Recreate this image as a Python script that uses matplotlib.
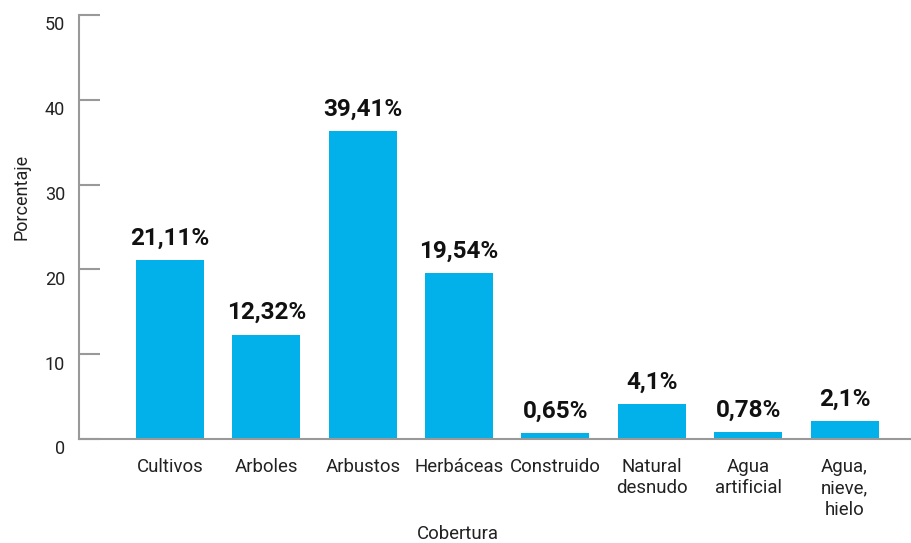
import matplotlib.pyplot as plt
import matplotlib.transforms as mtransforms

categorias = ['Cultivos', 'Arboles', 'Arbustos', 'Herbáceas', 'Construido',
              'Natural\ndesnudo', 'Agua\nartificial', 'Agua,\nnieve,\nhielo']
# bar heights as drawn in the picture (Arbustos bar is drawn lower than its label)
alturas = [21.11, 12.32, 36.3, 19.54, 0.65, 4.1, 0.78, 2.1]
etiquetas = ['21,11%', '12,32%', '39,41%', '19,54%', '0,65%', '4,1%', '0,78%', '2,1%']
yticks = [0, 10, 20, 30, 40, 50]

plt.rcParams['font.family'] = ['Roboto', 'DejaVu Sans']

fig = plt.figure(figsize=(9.11, 5.43), dpi=100)
ax = fig.add_axes([79 / 911, 1 - 439 / 543, 1 - 79 / 911, 424 / 543])

x = list(range(len(categorias)))
bars = ax.bar(x, alturas, width=0.706, color='#02b1e9', zorder=2)

for xi, h, t in zip(x, alturas, etiquetas):
    ax.annotate(t, (xi, h), xytext=(0, 11), textcoords='offset points',
                ha='center', va='baseline', fontsize=17.5, fontweight='bold', color='#111111')

ax.set_xlim(-0.945, 7.69)
ax.set_ylim(0, 50)
ax.set_yticks(yticks)
ax.set_xticks(x)
ax.set_xticklabels(categorias, fontsize=13.4, color='#222222', linespacing=1.25)
ax.tick_params(axis='x', length=0, pad=13.5)
ax.tick_params(axis='y', direction='in', length=15, width=1.5, color='#999999',
               labelsize=13, labelcolor='#222222', pad=10)

# y tick labels sit a little below their tick lines
off = mtransforms.ScaledTranslation(0, -8.5 / 100, fig.dpi_scale_trans)
for lab in ax.get_yticklabels():
    lab.set_transform(lab.get_transform() + off)

for s in ['top', 'right']:
    ax.spines[s].set_visible(False)
ax.spines['left'].set_color('#999999')
ax.spines['left'].set_linewidth(1.5)
ax.spines['bottom'].set_color('#999999')
ax.spines['bottom'].set_linewidth(1.5)

ax.set_xlabel('Cobertura', fontsize=13.4, color='#222222')
ax.xaxis.set_label_coords(0.455, -0.203)
ax.set_ylabel('Porcentaje', fontsize=13, color='#222222')
ax.yaxis.set_label_coords(-0.058, 0.57)

fig.savefig('out.png', dpi=100)
